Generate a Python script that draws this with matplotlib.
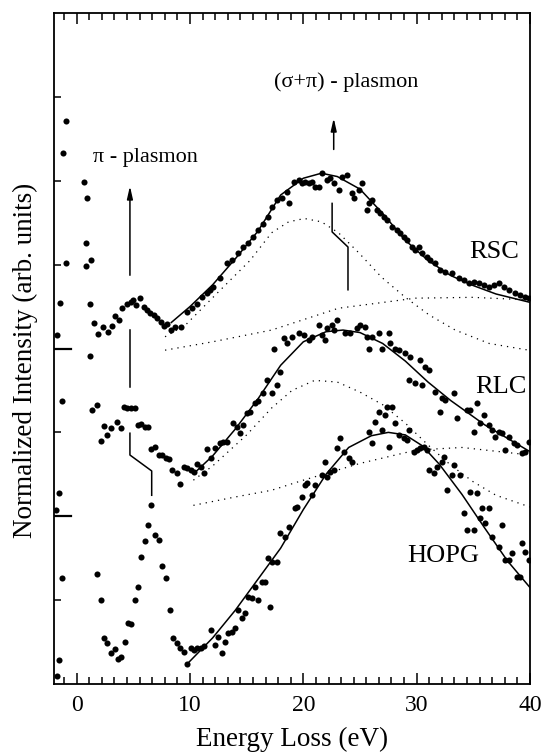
import numpy as np
import matplotlib.pyplot as plt

plt.rcParams['font.family'] = ['Liberation Serif', 'DejaVu Serif']

# ---- RSC (top spectrum) ----
rsc_E = [-0.97, -1.18, 0.64, 0.79, 0.94, 1.2, 1.29, -1.47, -1.77,
         1.5, 1.9, 2.3, 2.8, 3.1, 3.4, 3.7, 4.0, 4.4, 4.8, 5.0, 5.2, 5.6, 5.9, 6.2,
         6.5, 6.8, 7.1, 7.4, 7.7, 8.0, 8.3, 8.7, 9.2, 9.71, 10.15, 10.59, 11.03,
         11.47, 11.77, 12.03, 12.65, 13.24, 13.68, 14.24, 14.68, 15.12, 15.56, 16.0,
         16.44, 16.89, 17.24, 17.68, 18.12, 18.56, 18.71, 19.15, 19.59, 19.89, 20.15,
         20.48, 20.77, 21.03, 21.36, 21.65, 22.09, 22.36, 22.68, 23.12, 23.42, 23.86,
         24.3, 24.45, 24.89, 25.18, 25.62, 25.77, 26.06, 26.5, 26.77, 27.1, 27.39,
         27.83, 28.27, 28.54, 28.86, 29.15, 29.6, 29.86, 30.19, 30.48, 30.92, 31.18,
         31.62, 32.06, 32.5, 33.12, 33.72, 34.16, 34.6, 35.04, 35.48, 35.92, 36.36,
         36.8, 37.25, 37.69, 38.13, 38.71, 39.13, 39.57, 39.89]
rsc_I = [6.71, 6.33, 5.98, 5.26, 5.80, 4.53, 5.05, 4.54, 4.16,
         4.30, 4.17, 4.26, 4.20, 4.27, 4.39, 4.34, 4.48, 4.53, 4.55, 4.58, 4.52, 4.60, 4.49, 4.46,
         4.42, 4.40, 4.36, 4.31, 4.27, 4.29, 4.22, 4.26, 4.26, 4.43, 4.48, 4.53, 4.61,
         4.66, 4.70, 4.73, 4.84, 5.02, 5.05, 5.14, 5.21, 5.26, 5.33, 5.41,
         5.49, 5.57, 5.69, 5.77, 5.80, 5.86, 5.74, 5.98, 6.01, 5.97, 5.98,
         5.97, 5.98, 5.92, 5.92, 6.09, 6.01, 6.03, 5.97, 5.89, 6.04, 6.07,
         5.85, 5.80, 5.89, 5.97, 5.65, 5.73, 5.77, 5.65, 5.61, 5.57, 5.53,
         5.45, 5.41, 5.38, 5.33, 5.29, 5.21, 5.17, 5.21, 5.14, 5.09, 5.05,
         5.02, 4.93, 4.91, 4.90, 4.84, 4.82, 4.78, 4.79, 4.78, 4.76, 4.73,
         4.76, 4.78, 4.73, 4.70, 4.66, 4.64, 4.61, 4.60]
rsc_fit_E = [8.35, 10, 12, 14, 16, 18, 20, 21.6, 23, 25, 27, 29, 31, 33, 35, 37, 40]
rsc_fit_I = [4.31, 4.50, 4.76, 5.07, 5.40, 5.83, 6.03, 6.09, 6.05, 5.90, 5.61, 5.29, 5.05, 4.87, 4.75, 4.65, 4.55]
rsc_peak_E = [7.8, 9.6, 12.4, 15.3, 17.2, 18.7, 20.1, 21.6, 23.1, 24.9, 26.9, 29.0, 31.1, 33.4, 36.4, 39.9]
rsc_peak_I = [4.14, 4.28, 4.66, 5.05, 5.38, 5.51, 5.55, 5.51, 5.38, 5.14, 4.85, 4.61, 4.40, 4.22, 4.06, 3.98]
rsc_bg_E = [7.8, 12, 17.2, 23.1, 29.9, 34.9, 39.9]
rsc_bg_I = [3.98, 4.08, 4.22, 4.48, 4.60, 4.61, 4.58]

# ---- RLC (middle spectrum) ----
rlc_E = [-0.97, -1.27, -1.56, -1.85, 0.79, 1.2,
         1.38, 1.77, 2.12, 2.41, 2.7, 3.0, 3.58, 3.88, 4.17, 4.47, 4.82, 5.12, 5.41,
         5.7, 6.0, 6.29, 6.58, 6.88, 7.26, 7.55, 7.86, 8.15, 8.44, 8.83, 9.12, 9.47,
         9.76, 10.06, 10.35, 10.64, 10.94, 11.24, 11.53, 11.83, 12.21, 12.65, 12.94,
         13.24, 13.82, 14.12, 14.41, 14.7, 15.0, 15.3, 15.74, 16.03, 16.47, 16.77,
         17.21, 17.39, 17.68, 17.94, 18.27, 18.56, 19.0, 19.59, 20.04, 20.48, 20.77,
         21.36, 21.65, 21.94, 22.09, 22.53, 22.68, 22.97, 23.71, 24.15, 24.74, 25.03,
         25.47, 25.62, 25.77, 26.06, 26.65, 26.95, 27.54, 27.68, 28.12, 28.42, 29.0,
         29.3, 29.44, 29.89, 30.33, 30.48, 30.77, 31.07, 31.65, 32.09, 32.24, 32.53,
         33.27, 33.56, 34.45, 34.74, 35.04, 35.33, 35.62, 35.92, 36.36, 36.66, 36.95,
         37.25, 37.54, 37.83, 38.13, 38.57, 38.86, 39.3, 39.59, 39.89]
rlc_I = [5.02, 3.37, 2.28, 2.07, 4.98, 3.91,
         3.27, 3.33, 2.90, 3.08, 2.97, 3.05, 3.12, 3.05, 3.30, 3.29, 3.29, 3.29, 3.09,
         3.10, 3.06, 3.06, 2.80, 2.82, 2.73, 2.73, 2.69, 2.68, 2.55, 2.51, 2.38, 2.59,
         2.57, 2.55, 2.53, 2.62, 2.59, 2.51, 2.80, 2.69, 2.81, 2.87, 2.88,
         2.88, 3.11, 3.06, 2.99, 3.09, 3.23, 3.24, 3.35, 3.38, 3.47, 3.62,
         3.47, 4.00, 3.56, 3.72, 4.12, 4.06, 4.14, 4.18, 4.16, 4.10, 4.14,
         4.28, 4.16, 4.10, 4.24, 4.28, 4.22, 4.34, 4.18, 4.18, 4.24, 4.28,
         4.26, 4.14, 4.00, 4.14, 4.18, 4.00, 4.18, 4.06, 4.00, 3.98, 3.95,
         3.62, 3.90, 3.59, 3.86, 3.56, 3.78, 3.74, 3.48, 3.24, 3.41, 3.39,
         3.47, 3.17, 3.27, 3.27, 3.00, 3.35, 3.11, 3.21, 3.09, 3.03, 2.94,
         3.00, 2.99, 2.79, 2.94, 2.87, 2.85, 2.75, 2.77, 2.88]
rlc_fit_E = [10.5, 12, 14, 16, 18, 20, 22, 23.5, 25, 27, 29, 31, 33, 36, 40]
rlc_fit_I = [2.53, 2.72, 3.04, 3.40, 3.80, 4.08, 4.20, 4.22, 4.19, 4.06, 3.85, 3.60, 3.38, 3.09, 2.77]
rlc_peak_E = [10.3, 12, 15, 17.2, 19, 21, 23, 25, 27, 29, 31, 33, 35, 37, 40]
rlc_peak_I = [2.43, 2.60, 2.97, 3.29, 3.50, 3.62, 3.60, 3.48, 3.33, 3.11, 2.85, 2.61, 2.41, 2.25, 2.11]
rlc_bg_E = [10.3, 14, 17.2, 20, 25, 30, 34, 40]
rlc_bg_I = [2.13, 2.23, 2.31, 2.43, 2.63, 2.79, 2.82, 2.73]

# ---- HOPG (bottom spectrum) ----
hopg_E = [-1.27, -1.56, -1.77,
          1.77, 2.12, 2.41, 2.7, 3.05, 3.35, 3.65, 3.94, 4.24, 4.53, 4.82, 5.12, 5.41,
          5.7, 6.0, 6.29, 6.58, 6.88, 7.26, 7.55, 7.91, 8.21, 8.5, 8.83, 9.12, 9.47,
          9.76, 10.06, 10.35, 10.64, 10.94, 11.24, 11.83, 12.21, 12.5, 12.8, 13.09,
          13.38, 13.68, 13.97, 14.26, 14.56, 14.85, 15.15, 15.45, 15.74, 16.03, 16.33,
          16.62, 16.91, 17.06, 17.24, 17.68, 17.97, 18.41, 18.71, 19.29, 19.44, 19.89,
          20.18, 20.33, 20.77, 21.06, 21.65, 21.94, 22.09, 22.38, 22.68, 22.97, 23.27,
          23.57, 24.0, 24.3, 25.77, 26.06, 26.36, 26.65, 26.95, 27.24, 27.39, 27.54,
          27.83, 28.12, 28.42, 28.86, 29.15, 29.3, 29.74, 30.04, 30.33, 30.63, 30.92,
          31.07, 31.51, 31.8, 32.24, 32.39, 32.68, 33.12, 33.27, 33.86, 34.16, 34.45,
          34.74, 35.04, 35.33, 35.62, 35.77, 36.06, 36.36, 36.66, 37.25, 37.54, 37.83,
          38.13, 38.42, 38.86, 39.13, 39.3, 39.59, 39.89]
hopg_I = [1.26, 0.29, 0.10,
          1.31, 1.00, 0.55, 0.49, 0.37, 0.42, 0.30, 0.32, 0.50, 0.73, 0.72, 1.00, 1.16,
          1.51, 1.70, 1.90, 2.13, 1.78, 1.72, 1.41, 1.26, 0.88, 0.55, 0.49, 0.43, 0.38,
          0.24, 0.43, 0.41, 0.43, 0.43, 0.45, 0.64, 0.46, 0.56, 0.37, 0.50,
          0.61, 0.62, 0.67, 0.88, 0.79, 0.85, 1.04, 1.03, 1.16, 1.00, 1.22,
          1.22, 1.50, 0.92, 1.45, 1.45, 1.80, 1.75, 1.87, 2.10, 2.11, 2.23,
          2.37, 2.40, 2.25, 2.37, 2.49, 2.65, 2.47, 2.53, 2.55, 2.81, 2.93,
          2.77, 2.69, 2.65, 3.00, 2.87, 3.12, 3.24, 3.03, 3.21, 3.30, 2.82,
          3.30, 3.11, 2.97, 2.93, 2.91, 3.03, 2.77, 2.79, 2.81, 2.82, 2.79,
          2.55, 2.51, 2.59, 2.65, 2.71, 2.31, 2.49, 2.61, 2.49, 2.04, 1.84,
          2.29, 1.84, 2.28, 1.98, 2.10, 1.92, 2.10, 1.75, 1.63, 1.90, 1.48,
          1.48, 1.56, 1.28, 1.28, 1.68, 1.57, 1.48]
hopg_fit_E = [9.76, 12, 14, 16, 18, 20, 22, 24, 26, 27.5, 29, 30.5, 32, 34, 36, 38, 40]
hopg_fit_I = [0.24, 0.55, 0.88, 1.25, 1.62, 2.08, 2.50, 2.82, 2.96, 3.00, 2.97, 2.84, 2.62, 2.26, 1.86, 1.47, 1.15]

labels = ['RSC', 'RLC', 'HOPG']

fig = plt.figure(figsize=(5.44, 7.53), dpi=100)
ax = fig.add_axes([54/544, 69/753, 476/544, 671/753])

dotted = (0, (1, 4))
for E, I in [(rsc_E, rsc_I), (rlc_E, rlc_I), (hopg_E, hopg_I)]:
    ax.plot(E, I, 'o', color='black', ms=4.4, mew=0)
for E, I in [(rsc_fit_E, rsc_fit_I), (rlc_fit_E, rlc_fit_I), (hopg_fit_E, hopg_fit_I)]:
    ax.plot(E, I, '-', color='black', lw=1.1)
for E, I in [(rsc_peak_E, rsc_peak_I), (rsc_bg_E, rsc_bg_I), (rlc_peak_E, rlc_peak_I), (rlc_bg_E, rlc_bg_I)]:
    ax.plot(E, I, color='black', lw=0.9, linestyle=dotted)

# labels of the spectra
ax.text(34.6, 5.08, labels[0], fontsize=19, va='baseline', ha='left')
ax.text(35.2, 3.47, labels[1], fontsize=19, va='baseline', ha='left')
ax.text(29.2, 1.45, labels[2], fontsize=19, va='baseline', ha='left')

# plasmon annotations
ax.text(1.45, 6.22, '\u03c0 - plasmon', fontsize=16, va='baseline', ha='left')
ax.text(17.4, 7.12, '(\u03c3+\u03c0) - plasmon', fontsize=16, va='baseline', ha='left')
ax.annotate('', xy=(4.70, 5.97), xytext=(4.70, 4.84),
            arrowprops=dict(arrowstyle='-|>,head_length=0.75,head_width=0.17', color='black', lw=1.1))
ax.annotate('', xy=(22.68, 6.78), xytext=(22.68, 6.34),
            arrowprops=dict(arrowstyle='-|>,head_length=0.75,head_width=0.17', color='black', lw=1.1))
ax.plot([4.70, 4.70], [4.22, 3.54], color='black', lw=1.1)
ax.plot([4.70, 4.70, 6.62, 6.62], [2.99, 2.73, 2.54, 2.25], color='black', lw=1.1)
ax.plot([22.54, 22.54, 23.94, 23.94], [5.73, 5.39, 5.21, 4.70], color='black', lw=1.1)

# offset markers on the left axis
for y0 in [2, 4]:
    ax.plot([0, 0.036], [y0, y0], color='black', lw=1.6, transform=ax.get_yaxis_transform())

ax.set_xlim(-2, 40)
ax.set_ylim(0, 8)
ax.set_xticks([0, 10, 20, 30, 40])
minor = [k * 10 / 9 for k in range(-1, 37) if k % 9 != 0]
ax.set_xticks(minor, minor=True)
ax.set_yticks(range(1, 8))
ax.set_yticklabels([])
ax.tick_params(axis='x', which='both', direction='in', top=True, bottom=True, labelsize=17, pad=8)
ax.tick_params(axis='x', which='major', length=8, width=1.1)
ax.tick_params(axis='x', which='minor', length=5, width=1.1)
ax.tick_params(axis='y', which='major', direction='in', left=True, right=False, length=5, width=1.1)
for s in ax.spines.values():
    s.set_linewidth(1.3)

ax.set_xlabel('Energy Loss (eV)', fontsize=19.5, labelpad=8)
ax.set_ylabel('Normalized Intensity (arb. units)', fontsize=19.5, labelpad=8)
ax.yaxis.set_label_coords(-0.034, 0.483)

plt.savefig('out.png', dpi=100)
